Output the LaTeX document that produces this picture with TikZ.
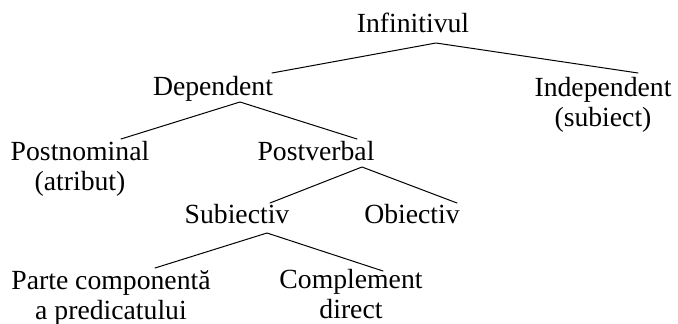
\documentclass[tikz,border=0pt]{standalone}
\usepackage{fontspec}
\setmainfont{Liberation Serif}
\setlength{\tabcolsep}{0pt}
\begin{document}
\begin{tikzpicture}[x=1pt,y=-1pt,
  lbl/.style={anchor=base,inner sep=0pt,font=\fontsize{27.7}{30}\selectfont},
  conn/.style={line width=1pt,line cap=round,line join=round}]
\useasboundingbox (0,0) rectangle (678,324);
% labels
\node[lbl] (inf)  at (413,32)  {Infinitivul};
\node[lbl] (dep)  at (213,95)  {Dependent};
\node[lbl] (ind)  at (603,96)  {\begin{tabular}[t]{c}Independent\\(subiect)\end{tabular}};
\node[lbl] (pn)   at (80,160)  {\begin{tabular}[t]{c}Postnominal\\(atribut)\end{tabular}};
\node[lbl] (pv)   at (316,160) {Postverbal};
\node[lbl] (sub)  at (237,223) {Subiectiv};
\node[lbl] (obi)  at (412,223) {Obiectiv};
\node[lbl] (pc)   at (111,289) {\begin{tabular}[t]{c}Parte componentă\\a predicatului\end{tabular}};
\node[lbl] (cd)   at (351,288) {\begin{tabular}[t]{c}Complement\\direct\end{tabular}};
% connector end points
\coordinate (infB) at (436,43);
\coordinate (depT) at (272,73);
\coordinate (indT) at (638,73);
\coordinate (depB) at (240,102);
\coordinate (pnT)  at (121,139);
\coordinate (pvT)  at (357,139);
\coordinate (pvB)  at (362,167);
\coordinate (subT) at (270,203);
\coordinate (obiT) at (457,203);
\coordinate (subB) at (267,233);
\coordinate (pcT)  at (155,268);
\coordinate (cdT)  at (383,271);
% connectors
\draw[conn] (depT) -- (infB) -- (indT);
\draw[conn] (pnT) -- (depB) -- (pvT);
\draw[conn] (subT) -- (pvB) -- (obiT);
\draw[conn] (pcT) -- (subB) -- (cdT);
\end{tikzpicture}
\end{document}
